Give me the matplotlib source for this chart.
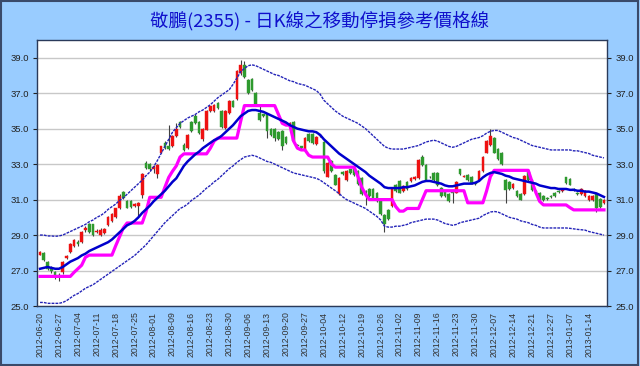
import matplotlib
matplotlib.use("Agg")
import matplotlib.pyplot as plt
from matplotlib.patches import Rectangle
import numpy as np

# tick labels (every 5 trading days)
date_labels = ["2012-06-20", "2012-06-27", "2012-07-04", "2012-07-11", "2012-07-18",
               "2012-07-25", "2012-08-01", "2012-08-09", "2012-08-16", "2012-08-23",
               "2012-08-30", "2012-09-06", "2012-09-13", "2012-09-20", "2012-09-27",
               "2012-10-04", "2012-10-12", "2012-10-19", "2012-10-26", "2012-11-02",
               "2012-11-09", "2012-11-16", "2012-11-23", "2012-11-30", "2012-12-07",
               "2012-12-14", "2012-12-21", "2012-12-27", "2013-01-07", "2013-01-14"]

# daily candles: open, high, low, close
opens = [27.9, 28.0, 27.5, 27.15, 26.9, 26.75, 26.9, 27.7, 28.05, 28.4,
         28.6, 28.6, 29.3, 29.6, 29.6, 29.15, 29.0, 29.1, 29.55, 29.8,
         30.0, 30.5, 31.45, 30.9, 30.9, 30.65, 30.65, 31.25, 33.05, 33.0,
         32.7, 32.45, 33.65, 34.2, 34.0, 34.0, 34.6, 35.4, 34.1, 33.9,
         35.4, 35.7, 35.4, 34.4, 34.95, 36.0, 36.0, 36.45, 36.0, 35.05,
         35.9, 36.55, 36.65, 38.15, 38.6, 37.75, 37.8, 37.0, 35.9, 35.8,
         35.8, 35.0, 35.0, 34.8, 34.85, 34.55, 35.25, 35.4, 34.1, 34.0,
         33.8, 34.7, 34.7, 34.15, 34.6, 34.25, 32.3, 33.2, 32.4, 31.3,
         32.55, 32.1, 32.7, 32.8, 32.6, 32.2, 31.5, 31.6, 31.6, 31.4,
         31.0, 30.15, 30.4, 30.65, 31.85, 32.05, 31.5, 32.0, 32.05, 32.15,
         32.2, 33.4, 32.95, 32.3, 32.5, 32.5, 31.65, 31.45, 31.3, 31.45,
         31.4, 32.7, 32.3, 32.4, 32.3, 31.95, 32.1, 32.6, 33.65, 34.1,
         34.5, 33.85, 33.65, 32.1, 32.0, 31.65, 31.5, 31.3, 31.3, 32.55,
         32.1, 31.5, 31.4, 31.2, 31.1, 31.2, 31.4, 31.5, 31.5, 32.25,
         32.15, 31.6, 31.4, 31.3, 31.2, 30.95, 30.95, 31.3, 31.05, 30.8]
highs = [28.1, 28.05, 27.55, 27.25, 26.95, 26.85, 27.55, 27.85, 28.55, 28.8,
         28.7, 29.25, 29.5, 29.7, 29.65, 29.35, 29.4, 29.4, 30.05, 30.25,
         30.55, 31.3, 31.5, 30.95, 31.0, 30.8, 30.85, 32.5, 33.15, 33.05,
         32.95, 33.0, 34.05, 34.3, 35.2, 34.65, 35.3, 35.45, 34.2, 34.7,
         35.45, 35.8, 35.45, 35.05, 36.05, 36.3, 36.4, 36.5, 36.05, 36.05,
         36.6, 36.6, 38.3, 38.9, 38.8, 37.8, 37.85, 37.05, 36.3, 35.85,
         35.85, 35.05, 35.05, 34.85, 34.9, 34.6, 35.35, 35.45, 34.15, 34.05,
         34.55, 34.75, 34.75, 34.6, 34.7, 34.3, 33.1, 33.25, 32.45, 32.25,
         32.6, 32.65, 32.75, 32.85, 32.65, 32.25, 31.55, 31.65, 31.65, 31.45,
         31.05, 30.2, 30.45, 31.7, 31.9, 32.1, 31.8, 32.05, 32.25, 32.35,
         33.3, 33.5, 33.0, 32.35, 32.55, 32.55, 31.7, 31.5, 31.35, 31.5,
         32.05, 32.75, 32.4, 32.45, 32.35, 32.0, 32.65, 33.45, 34.35, 35.0,
         34.55, 33.9, 33.7, 32.15, 32.05, 31.95, 31.55, 31.35, 32.4, 32.6,
         32.15, 31.55, 31.45, 31.25, 31.15, 31.25, 31.45, 31.55, 31.55, 32.3,
         32.2, 31.65, 31.45, 31.65, 31.55, 31.25, 31.25, 31.35, 31.1, 31.05]
lows = [27.85, 27.55, 27.05, 26.85, 26.5, 26.4, 26.8, 27.65, 28.0, 28.35,
        28.4, 28.55, 29.2, 29.1, 28.95, 29.1, 28.95, 29.05, 29.5, 29.75,
        29.95, 30.45, 31.05, 30.5, 30.5, 30.6, 30.1, 31.1, 32.7, 32.6,
        32.5, 32.2, 33.6, 33.85, 33.8, 33.95, 34.55, 35.05, 33.75, 33.85,
        34.8, 35.25, 34.7, 34.3, 34.9, 35.95, 35.95, 36.1, 35.05, 35.0,
        35.85, 36.2, 36.6, 38.0, 37.85, 36.95, 37.15, 36.3, 35.45, 35.65,
        34.5, 34.6, 34.3, 34.35, 33.8, 34.15, 35.2, 34.25, 33.95, 33.85,
        33.75, 34.25, 34.15, 34.1, 34.55, 32.5, 32.25, 32.55, 31.8, 31.25,
        32.4, 32.05, 32.45, 32.35, 31.85, 31.25, 30.7, 31.15, 31.05, 30.85,
        30.15, 29.15, 29.85, 30.6, 31.45, 31.35, 31.45, 31.55, 32.0, 32.1,
        32.15, 32.9, 32.05, 32.2, 32.05, 31.75, 31.15, 31.15, 30.85, 30.8,
        31.35, 32.4, 32.25, 32.05, 31.9, 31.85, 32.05, 32.55, 33.6, 34.05,
        33.6, 33.25, 32.95, 30.8, 31.55, 31.6, 31.15, 30.95, 31.25, 32.05,
        31.5, 31.4, 30.95, 30.9, 31.0, 31.1, 31.15, 31.4, 31.45, 31.9,
        31.8, 31.5, 31.25, 31.25, 31.15, 30.9, 30.9, 30.3, 30.55, 30.75]
closes = [28.05, 27.6, 27.1, 26.95, 26.75, 26.7, 27.5, 27.8, 28.5, 28.7,
          28.5, 29.2, 29.4, 29.2, 29.0, 29.25, 29.3, 29.35, 30.0, 30.2,
          30.5, 31.2, 31.1, 30.55, 30.6, 30.75, 30.8, 32.45, 32.8, 32.75,
          32.85, 32.95, 34.0, 33.9, 33.85, 34.6, 35.0, 35.1, 33.8, 34.65,
          34.85, 35.3, 34.75, 35.0, 36.0, 36.25, 36.35, 36.15, 35.1, 36.0,
          36.55, 36.25, 38.25, 38.6, 37.9, 37.0, 37.2, 36.35, 35.5, 35.7,
          34.85, 34.65, 34.5, 34.4, 34.0, 34.2, 35.3, 34.3, 34.0, 33.9,
          34.5, 34.3, 34.2, 34.55, 34.65, 32.6, 33.05, 32.6, 31.85, 32.2,
          32.45, 32.6, 32.5, 32.4, 31.9, 31.3, 31.45, 31.2, 31.1, 30.9,
          30.2, 29.6, 29.9, 31.65, 31.5, 31.4, 31.75, 31.6, 32.2, 32.3,
          33.25, 32.95, 32.1, 32.25, 32.1, 31.8, 31.2, 31.2, 30.9, 31.4,
          32.0, 32.45, 32.35, 32.1, 31.95, 31.9, 32.6, 33.4, 34.3, 34.6,
          33.65, 33.3, 33.0, 31.55, 31.6, 31.9, 31.2, 31.0, 32.35, 32.1,
          31.55, 31.45, 31.0, 30.95, 31.05, 31.15, 31.2, 31.45, 31.5, 31.95,
          31.85, 31.55, 31.3, 31.6, 31.5, 31.2, 31.2, 30.5, 30.6, 31.0]

# moving average
ma = [27.1, 27.15, 27.2, 27.15, 27.1, 27.1, 27.2, 27.35, 27.5, 27.6,
      27.7, 27.85, 27.95, 28.1, 28.2, 28.3, 28.4, 28.5, 28.6, 28.75,
      28.95, 29.15, 29.35, 29.55, 29.65, 29.8, 30.0, 30.25, 30.45, 30.65,
      30.9, 31.1, 31.3, 31.5, 31.75, 32.0, 32.2, 32.55, 32.9, 33.15,
      33.35, 33.55, 33.7, 33.9, 34.05, 34.2, 34.35, 34.45, 34.6, 34.8,
      35.0, 35.2, 35.45, 35.7, 35.85, 36.0, 36.05, 36.05, 36.0, 35.95,
      35.85, 35.75, 35.65, 35.55, 35.45, 35.35, 35.2, 35.1, 35.0, 34.95,
      34.9, 34.85, 34.85, 34.8, 34.65, 34.4, 34.2, 34.0, 33.8, 33.6,
      33.45, 33.3, 33.15, 33.0, 32.85, 32.7, 32.55, 32.35, 32.2, 32.05,
      31.9, 31.7, 31.65, 31.65, 31.65, 31.65, 31.7, 31.7, 31.75, 31.8,
      31.9, 32.0, 32.05, 32.05, 32.0, 31.95, 31.9, 31.8, 31.75, 31.75,
      31.8, 31.85, 31.9, 31.9, 31.9, 31.95, 32.05, 32.25, 32.4, 32.5,
      32.55, 32.5, 32.45, 32.35, 32.3, 32.2, 32.15, 32.1, 32.05, 32.0,
      31.95, 31.9, 31.8, 31.75, 31.7, 31.65, 31.65, 31.6, 31.6, 31.6,
      31.55, 31.55, 31.5, 31.5, 31.45, 31.45, 31.4, 31.35, 31.25, 31.15]

# upper / lower band
upper = [29.0, 29.0, 28.95, 28.95, 28.93, 28.95, 29.0, 29.1, 29.2, 29.3,
         29.4, 29.5, 29.6, 29.75, 29.85, 30.0, 30.1, 30.25, 30.45, 30.6,
         30.75, 30.95, 31.1, 31.3, 31.5, 31.7, 31.9, 32.1, 32.35, 32.55,
         32.85, 33.2, 33.6, 34.0, 34.4, 34.8, 35.05, 35.3, 35.45, 35.6,
         35.7, 35.8, 35.95, 36.05, 36.2, 36.35, 36.55, 36.75, 36.9, 37.05,
         37.2, 37.5, 37.85, 38.2, 38.4, 38.55, 38.6, 38.55, 38.45, 38.35,
         38.25, 38.15, 38.05, 38.0, 37.9, 37.8, 37.7, 37.65, 37.55, 37.5,
         37.45, 37.35, 37.25, 37.15, 36.95, 36.6, 36.4, 36.2, 36.0, 35.85,
         35.7, 35.6, 35.5, 35.4, 35.3, 35.15, 35.0, 34.8, 34.6, 34.4,
         34.2, 34.0, 33.9, 33.85, 33.85, 33.85, 33.85, 33.9, 33.95, 34.0,
         34.05, 34.15, 34.25, 34.3, 34.35, 34.3, 34.2, 34.1, 34.0, 33.95,
         34.0, 34.1, 34.2, 34.3, 34.4, 34.45, 34.5, 34.6, 34.75, 34.85,
         34.9, 34.9, 34.8, 34.7, 34.6, 34.5, 34.45, 34.35, 34.25, 34.15,
         34.05, 34.0, 33.95, 33.9, 33.85, 33.8, 33.8, 33.8, 33.8, 33.8,
         33.8, 33.75, 33.75, 33.7, 33.65, 33.6, 33.5, 33.45, 33.4, 33.35]
lower = [25.2, 25.2, 25.15, 25.15, 25.15, 25.15, 25.2, 25.3, 25.45, 25.6,
         25.7, 25.85, 26.0, 26.1, 26.2, 26.35, 26.5, 26.65, 26.8, 26.95,
         27.1, 27.25, 27.4, 27.55, 27.7, 27.85, 28.05, 28.25, 28.45, 28.7,
         28.95, 29.2, 29.45, 29.7, 29.9, 30.1, 30.3, 30.5, 30.6, 30.75,
         30.95, 31.1, 31.25, 31.45, 31.65, 31.8, 32.0, 32.15, 32.35, 32.55,
         32.75, 32.9, 33.1, 33.25, 33.4, 33.45, 33.5, 33.45, 33.35, 33.25,
         33.15, 33.1, 33.0, 32.9, 32.8, 32.7, 32.6, 32.5, 32.45, 32.4,
         32.35, 32.3, 32.25, 32.2, 32.1, 31.95, 31.8, 31.65, 31.5, 31.35,
         31.15, 31.0, 30.9, 30.8, 30.7, 30.6, 30.5, 30.35, 30.2, 30.05,
         29.85, 29.5, 29.45, 29.45, 29.5, 29.5, 29.55, 29.6, 29.7, 29.75,
         29.8, 29.85, 29.9, 29.9, 29.9, 29.85, 29.75, 29.65, 29.6, 29.55,
         29.6, 29.7, 29.75, 29.8, 29.85, 29.9, 29.95, 30.1, 30.2, 30.3,
         30.33, 30.3, 30.2, 30.1, 30.0, 29.95, 29.9, 29.8, 29.75, 29.7,
         29.6, 29.55, 29.45, 29.4, 29.4, 29.4, 29.4, 29.4, 29.4, 29.4,
         29.38, 29.35, 29.32, 29.3, 29.28, 29.2, 29.15, 29.1, 29.05, 29.0]

# trailing stop price line
stop = [26.67, 26.67, 26.67, 26.67, 26.67, 26.67, 26.67, 26.67, 26.67, 26.9,
        27.1, 27.3, 27.75, 27.87, 27.87, 27.87, 27.87, 27.87, 27.87, 27.87,
        28.4, 28.9, 29.4, 29.68, 29.68, 29.68, 29.68, 29.68, 30.3, 31.13,
        31.13, 31.13, 31.13, 31.7, 32.25, 32.6, 32.9, 33.4, 33.58, 33.58,
        33.58, 33.58, 33.58, 33.58, 33.58, 33.9, 34.3, 34.47, 34.47, 34.47,
        34.47, 34.47, 34.47, 35.4, 36.3, 36.3, 36.3, 36.3, 36.3, 36.3,
        36.3, 36.3, 36.3, 35.8, 35.3, 35.2, 35.2, 34.3, 33.9, 33.8,
        33.8, 33.5, 33.4, 33.4, 33.4, 33.4, 33.4, 33.0, 32.83, 32.83,
        32.83, 32.83, 32.83, 32.83, 32.3, 31.7, 31.3, 31.0, 31.0, 31.0,
        31.0, 31.0, 31.0, 31.0, 30.6, 30.35, 30.35, 30.5, 30.5, 30.5,
        30.5, 31.0, 31.5, 31.5, 31.5, 31.5, 31.5, 31.5, 31.5, 31.5,
        31.5, 31.5, 31.5, 30.82, 30.82, 30.82, 30.82, 30.82, 31.5, 32.3,
        32.65, 32.65, 32.65, 32.65, 32.65, 32.65, 32.65, 32.65, 32.65, 32.65,
        32.0, 31.4, 30.9, 30.7, 30.7, 30.7, 30.7, 30.7, 30.7, 30.7,
        30.55, 30.42, 30.42, 30.42, 30.42, 30.42, 30.42, 30.42, 30.42, 30.42]

title = "敬鵬(2355) - 日K線之移動停損參考價格線"

x = np.arange(len(closes))
o = np.array(opens)
c = np.array(closes)

fig = plt.figure(figsize=(6.4, 3.66), dpi=100, facecolor="#99CCFF")
fig.patches.append(Rectangle((0.002, 0.003), 0.995, 0.993, transform=fig.transFigure,
                             fill=False, edgecolor="#3A4A6A", lw=1.5))

ax = fig.add_axes([37 / 640, 1 - 306 / 366, 570 / 640, 266 / 366])
ax.set_facecolor("white")

# candles (red = up, green = down)
up = c >= o
colors = np.where(up, "#EE1111", "#2E9A2E")
ax.vlines(x, lows, highs, color="#404040", lw=0.8, zorder=2)
body = np.maximum(np.abs(c - o), 0.05)
ax.bar(x, body, bottom=np.minimum(o, c), width=0.7, color=colors,
       edgecolor=colors, lw=0.3, zorder=3)

# lines
ax.plot(x, upper, color="#2424B8", lw=1.0, ls=(0, (2, 0.8)), zorder=4)
ax.plot(x, lower, color="#2424B8", lw=1.0, ls=(0, (2, 0.8)), zorder=4)
ax.plot(x, stop, color="#FF00FF", lw=2.3, zorder=5)
ax.plot(x, ma, color="#0000CC", lw=1.8, zorder=6)

ax.set_xlim(-0.8, len(closes) - 0.2)
ax.set_ylim(25, 40)
yt = np.arange(25, 40, 2)
ax.set_yticks(yt)
ax.set_yticklabels(["%.1f" % v for v in yt], family="Liberation Sans")
ax.yaxis.grid(True, color="#C8C8C8", lw=1)
ax.set_axisbelow(True)
ax.tick_params(axis="y", labelright=True, right=True, length=3, labelsize=6.8,
               colors="#222222", pad=3)
ax.set_xticks(x[::5])
ax.set_xticklabels(date_labels, rotation=90, fontsize=6.3, color="#333333",
                   family="Liberation Sans")
ax.tick_params(axis="x", length=0, pad=4)
for s in ax.spines.values():
    s.set_color("#2A3A5A")
    s.set_linewidth(1)

fig.text(0.5, 1 - 22 / 366, title, ha="center", va="center", fontsize=13.3,
         color="#1010CC", family=["Noto Sans CJK TC", "DejaVu Sans"])

fig.savefig("out.png", dpi=100, facecolor=fig.get_facecolor())
